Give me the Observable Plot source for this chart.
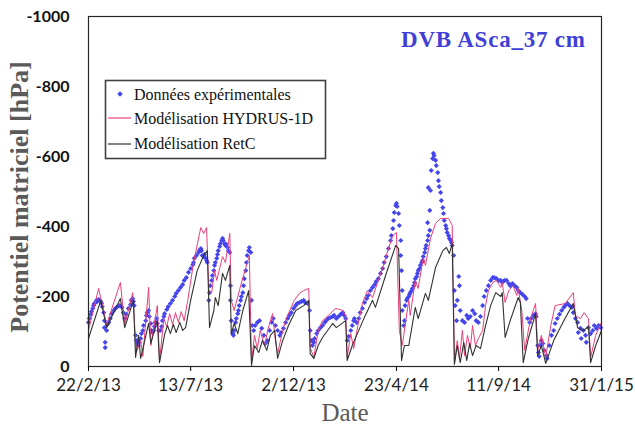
<!DOCTYPE html>
<html><head><meta charset="utf-8">
<script src="https://cdn.jsdelivr.net/npm/d3@7"></script>
<script src="https://cdn.jsdelivr.net/npm/@observablehq/plot@0.6"></script>
<style>
html,body{margin:0;padding:0;background:#fff;}
#chart{width:635px;height:433px;}
</style></head>
<body><div id="chart"></div>
<script>
// ---- data (dates, potentiel matriciel in hPa) ----
const title = "DVB ASca_37 cm";
const seriesNames = ["Données expérimentales", "Modélisation HYDRUS-1D", "Modélisation RetC"];
const xTickDates = ["2013-02-22","2013-07-13","2013-12-02","2014-04-23","2014-09-11","2015-01-31"];
const yTicks = [0,-200,-400,-600,-800,-1000];

const experimental = [
["2013-02-22",-126],["2013-02-23",-137],["2013-02-25",-149],["2013-02-26",-157],["2013-02-28",-166],["2013-03-01",-174],["2013-03-02",-180],["2013-03-04",-183],["2013-03-05",-189],["2013-03-06",-186],["2013-03-08",-191],["2013-03-09",-189],["2013-03-11",-186],["2013-03-12",-180],["2013-03-13",-171],["2013-03-15",-154],["2013-03-16",-131],["2013-03-16",-111],["2013-03-17",-69],["2013-03-17",-54],["2013-03-19",-103],["2013-03-20",-120],
["2013-03-22",-126],["2013-03-24",-137],["2013-03-26",-151],["2013-03-29",-160],["2013-03-31",-166],["2013-04-03",-171],["2013-04-06",-174],["2013-04-09",-169],["2013-04-11",-154],["2013-04-13",-137],["2013-04-15",-149],["2013-04-18",-166],["2013-04-21",-177],["2013-04-22",-189],["2013-04-24",-194],["2013-04-25",-186],["2013-04-26",-174],
["2013-04-28",-89],["2013-04-29",-74],["2013-05-01",-66],["2013-05-02",-60],["2013-05-03",-69],["2013-05-05",-80],["2013-05-06",-94],["2013-05-08",-103],["2013-05-09",-117],["2013-05-12",-131],["2013-05-13",-146],["2013-05-14",-154],["2013-05-16",-160],["2013-05-17",-143],["2013-05-19",-123],["2013-05-20",-103],["2013-05-21",-97],["2013-05-23",-103],["2013-05-24",-114],["2013-05-25",-126],["2013-05-27",-137],["2013-05-28",-123],["2013-05-30",-103],
["2013-06-01",-103],["2013-06-03",-114],["2013-06-04",-131],["2013-06-06",-143],["2013-06-07",-151],["2013-06-10",-163],["2013-06-12",-171],["2013-06-15",-180],["2013-06-18",-189],["2013-06-21",-200],["2013-06-23",-209],["2013-06-26",-217],["2013-06-29",-226],["2013-07-02",-234],["2013-07-04",-246],["2013-07-07",-254],["2013-07-10",-269],["2013-07-13",-280],["2013-07-16",-291],["2013-07-17",-297],["2013-07-18",-309],["2013-07-21",-317],["2013-07-24",-326],["2013-07-25",-331],["2013-07-27",-337],["2013-07-28",-331],["2013-07-29",-317],["2013-07-31",-314],["2013-08-01",-320],["2013-08-02",-311],["2013-08-04",-303],["2013-08-05",-297],
["2013-08-07",-189],["2013-08-08",-211],["2013-08-09",-231],["2013-08-11",-246],["2013-08-12",-260],["2013-08-14",-274],["2013-08-15",-289],["2013-08-16",-297],["2013-08-18",-309],["2013-08-19",-320],["2013-08-20",-331],["2013-08-22",-343],["2013-08-23",-351],["2013-08-25",-360],["2013-08-26",-366],["2013-08-27",-360],["2013-08-29",-351],["2013-08-30",-346],["2013-08-31",-349],["2013-09-02",-340],["2013-09-03",-331],["2013-09-05",-326],["2013-09-06",-231],["2013-09-06",-189],["2013-09-07",-131],["2013-09-09",-94],
["2013-09-10",-89],["2013-09-11",-103],["2013-09-13",-126],["2013-09-14",-137],["2013-09-16",-151],["2013-09-17",-160],["2013-09-18",-174],["2013-09-20",-189],["2013-09-21",-200],["2013-09-23",-211],["2013-09-24",-231],["2013-09-25",-251],["2013-09-27",-274],["2013-09-28",-297],["2013-09-29",-317],["2013-10-01",-331],["2013-10-02",-340],["2013-10-04",-326],["2013-10-05",-189],["2013-10-06",-117],
["2013-10-08",-103],["2013-10-10",-117],["2013-10-13",-126],["2013-10-16",-131],["2013-10-19",-109],["2013-10-22",-89],["2013-10-24",-66],["2013-10-27",-74],["2013-10-30",-103],["2013-11-02",-126],["2013-11-04",-137],["2013-11-07",-117],["2013-11-10",-103],["2013-11-13",-89],["2013-11-15",-97],["2013-11-18",-109],["2013-11-21",-126],["2013-11-24",-137],["2013-11-26",-146],["2013-11-29",-154],["2013-12-02",-166],["2013-12-05",-174],["2013-12-07",-180],["2013-12-10",-183],["2013-12-13",-186],["2013-12-16",-189],["2013-12-18",-183],["2013-12-21",-180],
["2013-12-24",-160],["2013-12-25",-103],["2013-12-27",-74],["2013-12-28",-60],["2013-12-30",-69],["2013-12-31",-80],["2014-01-03",-94],["2014-01-05",-103],["2014-01-08",-111],["2014-01-11",-117],["2014-01-14",-126],["2014-01-16",-131],["2014-01-19",-137],["2014-01-22",-140],["2014-01-25",-143],["2014-01-27",-146],["2014-01-30",-137],["2014-02-02",-143],["2014-02-05",-149],["2014-02-08",-154],["2014-02-10",-146],["2014-02-12",-137],
["2014-02-14",-74],["2014-02-16",-86],["2014-02-19",-103],["2014-02-21",-117],["2014-02-23",-131],["2014-02-24",-137],["2014-02-27",-126],["2014-03-02",-137],["2014-03-04",-154],["2014-03-07",-166],["2014-03-10",-183],["2014-03-13",-194],["2014-03-15",-203],["2014-03-18",-217],["2014-03-21",-226],["2014-03-24",-234],["2014-03-26",-243],["2014-03-29",-251],["2014-04-01",-266],["2014-04-04",-280],["2014-04-06",-297],["2014-04-09",-314],["2014-04-12",-337],["2014-04-15",-360],["2014-04-16",-374],["2014-04-18",-394],["2014-04-19",-417],["2014-04-20",-440],["2014-04-22",-460],["2014-04-23",-466],["2014-04-24",-457],
["2014-04-26",-437],["2014-04-27",-403],["2014-04-29",-360],["2014-04-29",-317],["2014-04-30",-274],["2014-05-01",-217],["2014-05-01",-160],["2014-05-03",-117],
["2014-05-04",-131],["2014-05-05",-174],["2014-05-07",-189],["2014-05-08",-194],["2014-05-10",-200],["2014-05-11",-206],["2014-05-12",-211],["2014-05-14",-217],["2014-05-15",-223],["2014-05-17",-231],["2014-05-18",-240],["2014-05-19",-251],["2014-05-21",-257],["2014-05-22",-266],["2014-05-23",-274],["2014-05-25",-280],["2014-05-26",-289],["2014-05-28",-297],["2014-05-29",-303],["2014-05-30",-314],["2014-06-01",-326],["2014-06-02",-337],["2014-06-03",-346],["2014-06-05",-360],["2014-06-05",-411],["2014-06-06",-374],["2014-06-06",-511],["2014-06-08",-389],["2014-06-08",-446],["2014-06-09",-503],["2014-06-10",-560],["2014-06-12",-594],["2014-06-13",-609],["2014-06-14",-603],["2014-06-16",-589],["2014-06-17",-574],["2014-06-19",-554],["2014-06-20",-531],["2014-06-21",-514],["2014-06-23",-497],["2014-06-24",-474],["2014-06-26",-454],["2014-06-27",-437],["2014-06-28",-417],["2014-06-30",-403],["2014-07-01",-394],["2014-07-02",-383],["2014-07-04",-374],["2014-07-05",-366],["2014-07-07",-360],["2014-07-08",-354],["2014-07-09",-346],["2014-07-11",-317],
["2014-07-12",-217],["2014-07-13",-174],["2014-07-15",-131],["2014-07-16",-189],["2014-07-18",-257],["2014-07-19",-231],["2014-07-20",-160],["2014-07-23",-131],["2014-07-26",-126],["2014-07-29",-146],["2014-07-31",-137],["2014-08-03",-143],["2014-08-06",-160],["2014-08-09",-151],["2014-08-11",-131],["2014-08-14",-126],["2014-08-17",-143],["2014-08-20",-174],["2014-08-22",-200],["2014-08-25",-217],["2014-08-28",-231],["2014-08-31",-246],["2014-09-03",-254],
["2014-09-05",-254],["2014-09-08",-251],["2014-09-11",-246],["2014-09-14",-246],["2014-09-16",-240],["2014-09-19",-246],["2014-09-22",-246],["2014-09-25",-237],["2014-09-27",-231],["2014-09-30",-237],["2014-10-03",-231],["2014-10-06",-226],["2014-10-08",-217],["2014-10-11",-211],["2014-10-14",-206],["2014-10-17",-200],["2014-10-19",-194],["2014-10-21",-137],["2014-10-24",-126],["2014-10-26",-137],["2014-10-29",-146],["2014-11-01",-151],["2014-11-02",-143],
["2014-11-04",-60],["2014-11-05",-40],["2014-11-06",-29],["2014-11-08",-60],["2014-11-09",-74],["2014-11-11",-66],["2014-11-13",-46],["2014-11-16",-31],["2014-11-17",-23],["2014-11-20",-60],["2014-11-23",-89],["2014-11-26",-103],["2014-11-28",-123],["2014-12-01",-137],["2014-12-04",-149],["2014-12-07",-160],["2014-12-10",-169],["2014-12-12",-174],["2014-12-15",-180],["2014-12-18",-174],["2014-12-21",-169],["2014-12-23",-154],["2014-12-26",-137],["2014-12-29",-126],["2014-12-30",-97],["2015-01-02",-109],["2015-01-03",-80],["2015-01-06",-103],["2015-01-09",-89],["2015-01-10",-69],["2015-01-13",-111],["2015-01-16",-94],["2015-01-19",-103],["2015-01-21",-117],["2015-01-24",-109],["2015-01-27",-117],["2015-01-30",-111]
];

const hydrus = [
["2013-02-22",-103],["2013-03-08",-223],["2013-03-19",-120],["2013-04-07",-240],["2013-04-13",-120],["2013-04-24",-211],["2013-04-29",-40],["2013-05-05",-74],["2013-05-08",-29],["2013-05-16",-226],["2013-05-19",-60],["2013-05-28",-174],["2013-05-31",-17],["2013-06-06",-137],["2013-06-10",-114],["2013-06-14",-151],["2013-06-18",-120],["2013-06-22",-154],["2013-06-26",-126],["2013-06-30",-157],["2013-07-04",-131],["2013-07-09",-189],["2013-07-17",-297],["2013-07-27",-397],["2013-07-31",-380],["2013-08-04",-397],["2013-08-07",-217],["2013-08-11",-211],["2013-08-15",-274],["2013-08-18",-246],["2013-08-26",-314],["2013-08-30",-297],["2013-09-05",-380],["2013-09-07",-189],["2013-09-11",-160],["2013-09-20",-231],["2013-10-02",-317],["2013-10-05",-11],["2013-10-09",-89],["2013-10-13",-51],["2013-10-17",-103],["2013-10-23",-60],["2013-10-28",-109],["2013-11-03",-151],["2013-11-07",-74],["2013-11-10",-37],["2013-11-17",-103],["2013-11-22",-137],["2013-11-28",-166],["2013-12-03",-189],["2013-12-10",-209],["2013-12-16",-217],["2013-12-23",-223],["2013-12-25",-54],["2013-12-30",-26],
["2014-01-05",-103],["2014-01-11",-131],["2014-01-19",-146],["2014-01-29",-166],["2014-02-08",-160],["2014-02-12",-143],["2014-02-14",-26],["2014-02-19",-94],["2014-02-23",-51],["2014-03-02",-131],["2014-03-07",-180],["2014-03-14",-217],["2014-03-21",-197],["2014-04-04",-283],["2014-04-11",-331],["2014-04-18",-374],["2014-04-23",-383],["2014-04-27",-103],["2014-05-01",-60],["2014-05-05",-117],["2014-05-10",-189],["2014-05-12",-146],["2014-05-19",-246],["2014-05-23",-223],["2014-05-30",-311],["2014-06-02",-289],["2014-06-09",-366],["2014-06-16",-409],["2014-06-23",-423],["2014-07-04",-423],["2014-07-09",-403],["2014-07-12",-11],["2014-07-16",-74],["2014-07-19",-23],["2014-07-23",-103],["2014-07-26",-31],["2014-07-30",-89],["2014-08-03",-51],["2014-08-06",-117],["2014-08-10",-60],["2014-08-14",-80],["2014-08-20",-103],["2014-08-24",-174],["2014-08-28",-217],["2014-09-03",-240],["2014-09-08",-246],["2014-09-14",-226],["2014-09-16",-240],["2014-09-20",-183],["2014-09-25",-217],["2014-10-01",-231],["2014-10-06",-203],["2014-10-08",-223],["2014-10-13",-160],["2014-10-17",-46],["2014-10-25",-137],["2014-11-01",-180],["2014-11-04",-46],["2014-11-09",-89],["2014-11-15",-26],["2014-11-22",-117],["2014-11-28",-174],["2014-12-12",-180],["2014-12-23",-211],["2014-12-26",-146],["2015-01-02",-137],["2015-01-07",-154],["2015-01-13",-137],["2015-01-16",-26],["2015-01-23",-89],["2015-01-31",-126]
];

const retc = [
["2013-02-22",-80],["2013-03-11",-189],["2013-03-19",-111],["2013-04-07",-194],["2013-04-13",-111],["2013-04-25",-189],["2013-04-28",-26],["2013-05-02",-89],["2013-05-05",-23],["2013-05-16",-123],["2013-05-19",-66],["2013-05-28",-131],["2013-05-31",-11],["2013-06-07",-91],["2013-06-11",-117],["2013-06-15",-94],["2013-06-19",-120],["2013-06-23",-97],["2013-06-28",-126],["2013-07-02",-103],["2013-07-06",-111],["2013-07-13",-189],["2013-07-22",-274],["2013-07-31",-317],["2013-08-05",-331],["2013-08-08",-111],["2013-08-14",-160],["2013-08-16",-197],["2013-08-20",-174],["2013-08-26",-266],["2013-08-30",-246],["2013-09-05",-289],["2013-09-07",-94],["2013-09-11",-123],["2013-09-16",-94],["2013-09-23",-160],["2013-10-01",-217],["2013-10-05",-3],["2013-10-09",-60],["2013-10-15",-40],["2013-10-20",-74],["2013-10-26",-46],["2013-10-31",-89],["2013-11-06",-103],["2013-11-10",-23],["2013-11-17",-74],["2013-11-25",-117],["2013-12-05",-160],["2013-12-16",-174],["2013-12-23",-189],["2013-12-25",-37],["2013-12-30",-23],
["2014-01-05",-60],["2014-01-11",-83],["2014-01-25",-123],["2014-01-30",-111],["2014-02-12",-131],["2014-02-14",-17],["2014-02-21",-60],["2014-02-28",-94],["2014-03-11",-146],["2014-03-21",-189],["2014-03-25",-169],["2014-04-08",-260],["2014-04-22",-346],["2014-04-26",-337],["2014-04-30",-17],["2014-05-04",-60],["2014-05-10",-60],["2014-05-19",-169],["2014-05-23",-137],["2014-06-02",-209],["2014-06-06",-189],["2014-06-16",-283],["2014-06-26",-331],["2014-07-01",-340],["2014-07-05",-323],["2014-07-09",-351],["2014-07-12",-6],["2014-07-16",-60],["2014-07-20",-11],["2014-07-25",-69],["2014-07-29",-17],["2014-08-02",-66],["2014-08-06",-31],["2014-08-11",-60],["2014-08-17",-51],["2014-08-24",-117],["2014-08-31",-174],["2014-09-07",-211],["2014-09-14",-200],["2014-09-16",-211],["2014-09-20",-83],["2014-09-27",-131],["2014-10-08",-197],["2014-10-11",-183],["2014-10-15",-11],["2014-10-22",-80],["2014-11-01",-151],["2014-11-04",-31],["2014-11-09",-60],["2014-11-15",-9],["2014-11-26",-74],["2014-12-10",-131],["2014-12-23",-180],["2014-12-29",-111],["2015-01-06",-103],["2015-01-13",-114],["2015-01-16",-11],["2015-01-23",-60],["2015-01-31",-103]
];

// ---- build ----
const parse = d3.utcParse("%Y-%m-%d");
const toRows = arr => arr.map(([d, v]) => ({date: parse(d), value: v}));
const expRows = toRows(experimental);
const hydRows = toRows(hydrus);
const retRows = toRows(retc);

const blue = "#4545ec";
const pink = "#ea3f7c";
const dark = "#30342f";
const serif = "'Liberation Serif','Times New Roman',serif";

const plot = Plot.plot({
  width: 635,
  height: 433,
  marginLeft: 88,
  marginRight: 34,
  marginTop: 16,
  marginBottom: 67,
  style: {background: "#fff", fontFamily: "Lato, sans-serif", overflow: "visible"},
  x: {type: "utc", domain: [parse("2013-02-22"), parse("2015-01-31")]},
  y: {domain: [0, -1000]},
  marks: [
    Plot.dot(expRows, {x: "date", y: "value", symbol: "diamond2", r: 2.3, fill: blue, stroke: "none"}),
    Plot.line(hydRows, {x: "date", y: "value", stroke: pink, strokeWidth: 1}),
    Plot.line(retRows, {x: "date", y: "value", stroke: dark, strokeWidth: 1.1}),
    Plot.frame({stroke: "#262626", strokeWidth: 1.2}),
    Plot.axisY({ticks: yTicks, tickSize: 6, tickPadding: 13, tickFormat: d => String(d), label: null,
      fontSize: 16, fontWeight: "bold", fill: "#111", stroke: null}),
    Plot.axisX({ticks: xTickDates.map(parse), tickSize: 5, tickPadding: 7, tickFormat: d3.utcFormat("%-d/%-m/%y"),
      label: null, fontSize: 17, fill: "#222"})
  ]
});

document.getElementById("chart").appendChild(plot);

const svg = d3.select(plot);
svg.selectAll('g[aria-label="y-axis tick label"] text').attr("font-weight", "bold");

// axis titles
svg.append("text")
  .attr("transform", "translate(28,197) rotate(-90)")
  .attr("text-anchor", "middle")
  .attr("font-family", serif).attr("font-weight", "bold").attr("font-size", 26)
  .attr("fill", "#5a5a5a")
  .text("Potentiel matriciel [hPa]");
svg.append("text")
  .attr("x", 345).attr("y", 421)
  .attr("text-anchor", "middle")
  .attr("font-family", serif).attr("font-size", 25)
  .attr("fill", "#5a5a5a")
  .text("Date");

// title inside plot
svg.append("text")
  .attr("x", 401).attr("y", 47)
  .attr("text-anchor", "start")
  .attr("font-family", serif).attr("font-weight", "bold").attr("font-size", 23)
  .attr("textLength", 184).attr("lengthAdjust", "spacing")
  .attr("fill", "#4040d6")
  .text(title);

// legend
const lg = svg.append("g");
lg.append("rect").attr("x", 105.5).attr("y", 80.5).attr("width", 220).attr("height", 78)
  .attr("fill", "#fff").attr("stroke", "#404040").attr("stroke-width", 1.6);
lg.append("path").attr("d", d3.symbol(d3.symbolDiamond2, 19.6)())
  .attr("transform", "translate(120,94)").attr("fill", blue);
lg.append("line").attr("x1", 108).attr("x2", 131).attr("y1", 118).attr("y2", 118)
  .attr("stroke", pink).attr("stroke-width", 1.2);
lg.append("line").attr("x1", 108).attr("x2", 131).attr("y1", 144).attr("y2", 144)
  .attr("stroke", dark).attr("stroke-width", 1.2);
const legY = [100, 124, 149];
seriesNames.forEach((name, i) => {
  lg.append("text").attr("x", 134).attr("y", legY[i])
    .attr("text-anchor", "start")
    .attr("font-family", serif).attr("font-size", 16).attr("fill", "#111")
    .text(name);
});
</script>
</body></html>
